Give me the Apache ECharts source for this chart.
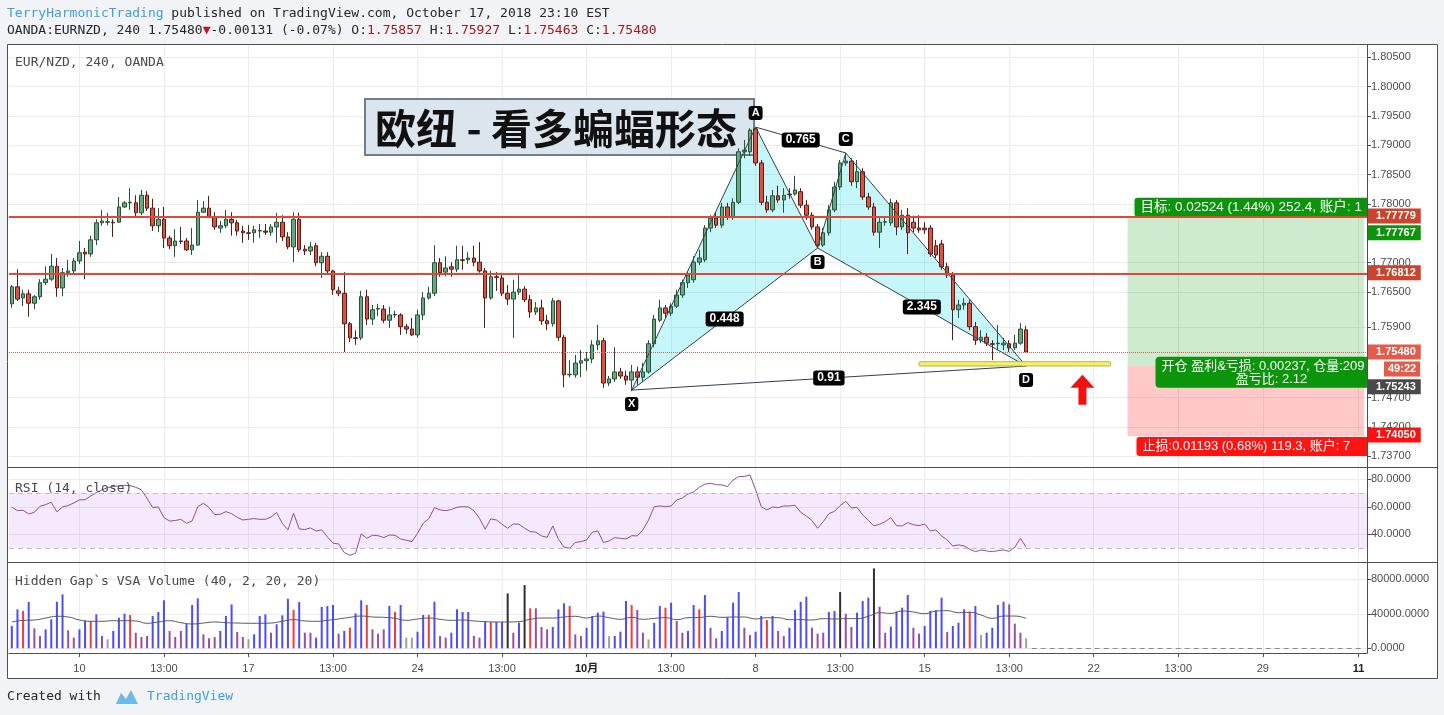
<!DOCTYPE html>
<html><head><meta charset="utf-8">
<script src="https://cdn.jsdelivr.net/npm/echarts@6/dist/echarts.min.js"></script>
<style>html,body{margin:0;padding:0;background:#fff;}#c{width:1444px;height:715px;}</style>
</head><body><div id="c"></div>
<script>
// ---------------- DATA ----------------
const barCount = 241; // category slots (data + empty future)
// [open, close, low, high] 4H candles EUR/NZD
const ohlc = [
[1.7630,1.7659,1.7623,1.7662],[1.7659,1.7638,1.7635,1.7689],[1.7640,1.7647,1.7626,1.7654],[1.7647,1.7631,1.7608,1.7654],
[1.7631,1.7642,1.7621,1.7645],[1.7642,1.7666,1.7637,1.7672],[1.7666,1.7672,1.7662,1.7694],[1.7672,1.7694,1.7669,1.7715],
[1.7694,1.7657,1.7642,1.7708],[1.7657,1.7683,1.7643,1.7691],[1.7683,1.7686,1.7676,1.7705],[1.7686,1.7703,1.7679,1.7708],
[1.7703,1.7717,1.7698,1.7737],[1.7718,1.7715,1.7672,1.7725],[1.7715,1.7739,1.7710,1.7746],[1.7739,1.7768,1.7730,1.7774],
[1.7768,1.7771,1.7763,1.7790],[1.7769,1.7770,1.7764,1.7785],[1.7769,1.7768,1.7744,1.7774],[1.7769,1.7795,1.7768,1.7812],
[1.7795,1.7802,1.7793,1.7805],[1.7802,1.7803,1.7790,1.7827],[1.7802,1.7785,1.7776,1.7815],[1.7785,1.7815,1.7781,1.7824],
[1.7815,1.7793,1.7788,1.7822],[1.7793,1.7763,1.7754,1.7809],[1.7763,1.7774,1.7752,1.7793],[1.7774,1.7742,1.7725,1.7795],
[1.7742,1.7729,1.7723,1.7746],[1.7729,1.7737,1.7710,1.7757],[1.7737,1.7736,1.7732,1.7761],[1.7737,1.7722,1.7720,1.7742],
[1.7722,1.7730,1.7713,1.7759],[1.7730,1.7786,1.7729,1.7807],[1.7786,1.7793,1.7785,1.7805],[1.7793,1.7778,1.7776,1.7814],
[1.7778,1.7761,1.7756,1.7786],[1.7759,1.7763,1.7751,1.7771],[1.7763,1.7774,1.7759,1.7790],[1.7774,1.7768,1.7746,1.7786],
[1.7768,1.7754,1.7746,1.7773],[1.7754,1.7751,1.7734,1.7763],[1.7751,1.7750,1.7739,1.7764],[1.7751,1.7756,1.7734,1.7763],
[1.7754,1.7755,1.7742,1.7766],[1.7754,1.7752,1.7747,1.7766],[1.7752,1.7761,1.7746,1.7766],[1.7761,1.7769,1.7734,1.7785],
[1.7769,1.7744,1.7737,1.7781],[1.7744,1.7727,1.7723,1.7752],[1.7727,1.7774,1.7701,1.7786],[1.7774,1.7722,1.7718,1.7785],
[1.7723,1.7720,1.7713,1.7730],[1.7720,1.7727,1.7713,1.7735],[1.7729,1.7700,1.7694,1.7734],[1.7700,1.7711,1.7674,1.7718],
[1.7711,1.7686,1.7681,1.7718],[1.7686,1.7654,1.7645,1.7688],[1.7652,1.7648,1.7643,1.7659],[1.7648,1.7596,1.7548,1.7684],
[1.7596,1.7572,1.7565,1.7599],[1.7572,1.7571,1.7560,1.7585],[1.7572,1.7642,1.7568,1.7652],[1.7642,1.7604,1.7594,1.7654],
[1.7604,1.7620,1.7594,1.7628],[1.7621,1.7622,1.7609,1.7630],[1.7621,1.7602,1.7597,1.7628],[1.7602,1.7611,1.7589,1.7625],
[1.7611,1.7612,1.7606,1.7618],[1.7611,1.7591,1.7577,1.7614],[1.7591,1.7587,1.7579,1.7596],[1.7587,1.7577,1.7575,1.7606],
[1.7577,1.7611,1.7572,1.7620],[1.7611,1.7640,1.7602,1.7650],[1.7640,1.7648,1.7637,1.7659],[1.7648,1.7700,1.7643,1.7730],
[1.7700,1.7683,1.7676,1.7708],[1.7684,1.7691,1.7677,1.7711],[1.7693,1.7689,1.7676,1.7701],[1.7689,1.7705,1.7684,1.7729],
[1.7705,1.7704,1.7688,1.7729],[1.7705,1.7708,1.7698,1.7718],[1.7708,1.7701,1.7694,1.7729],[1.7701,1.7686,1.7683,1.7735],
[1.7686,1.7640,1.7589,1.7691],[1.7640,1.7676,1.7637,1.7686],[1.7676,1.7675,1.7652,1.7684],[1.7674,1.7648,1.7643,1.7683],
[1.7648,1.7638,1.7628,1.7662],[1.7638,1.7650,1.7572,1.7671],[1.7650,1.7655,1.7645,1.7679],[1.7655,1.7637,1.7633,1.7660],
[1.7637,1.7616,1.7606,1.7645],[1.7616,1.7623,1.7611,1.7633],[1.7623,1.7601,1.7594,1.7637],[1.7601,1.7596,1.7585,1.7611],
[1.7596,1.7635,1.7591,1.7640],[1.7635,1.7573,1.7567,1.7637],[1.7573,1.7509,1.7488,1.7577],[1.7509,1.7510,1.7505,1.7534],
[1.7509,1.7529,1.7504,1.7543],[1.7529,1.7533,1.7505,1.7551],[1.7533,1.7536,1.7516,1.7548],[1.7536,1.7560,1.7529,1.7568],
[1.7560,1.7567,1.7551,1.7594],[1.7567,1.7495,1.7487,1.7572],[1.7495,1.7502,1.7490,1.7507],[1.7502,1.7514,1.7497,1.7556],
[1.7514,1.7507,1.7502,1.7521],[1.7507,1.7500,1.7492,1.7516],[1.7500,1.7514,1.7481,1.7526],[1.7514,1.7505,1.7492,1.7523],
[1.7505,1.7514,1.7497,1.7529],[1.7514,1.7562,1.7511,1.7568],[1.7562,1.7604,1.7556,1.7611],[1.7602,1.7623,1.7599,1.7637],
[1.7623,1.7614,1.7606,1.7628],[1.7614,1.7626,1.7609,1.7631],[1.7626,1.7645,1.7623,1.7654],[1.7645,1.7666,1.7640,1.7671],
[1.7666,1.7679,1.7657,1.7684],[1.7671,1.7701,1.7666,1.7711],[1.7701,1.7708,1.7696,1.7722],[1.7705,1.7759,1.7701,1.7764],
[1.7759,1.7776,1.7752,1.7781],[1.7776,1.7764,1.7759,1.7786],[1.7764,1.7795,1.7759,1.7802],[1.7795,1.7778,1.7773,1.7802],
[1.7778,1.7803,1.7773,1.7810],[1.7803,1.7889,1.7800,1.7895],[1.7889,1.7892,1.7878,1.7909],[1.7889,1.7926,1.7882,1.7929],
[1.7928,1.7870,1.7865,1.7931],[1.7870,1.7803,1.7798,1.7875],[1.7803,1.7790,1.7785,1.7814],[1.7790,1.7814,1.7786,1.7824],
[1.7814,1.7807,1.7802,1.7831],[1.7807,1.7815,1.7785,1.7827],[1.7817,1.7816,1.7809,1.7827],[1.7817,1.7824,1.7814,1.7848],
[1.7821,1.7798,1.7793,1.7827],[1.7798,1.7781,1.7773,1.7807],[1.7781,1.7761,1.7756,1.7786],[1.7761,1.7730,1.7725,1.7766],
[1.7730,1.7751,1.7727,1.7759],[1.7751,1.7790,1.7746,1.7798],[1.7790,1.7829,1.7786,1.7838],[1.7829,1.7870,1.7824,1.7875],
[1.7870,1.7873,1.7865,1.7887],[1.7873,1.7838,1.7831,1.7878],[1.7838,1.7855,1.7827,1.7875],[1.7855,1.7812,1.7807,1.7861],
[1.7812,1.7795,1.7790,1.7819],[1.7795,1.7752,1.7746,1.7802],[1.7752,1.7769,1.7725,1.7776],[1.7769,1.7770,1.7763,1.7776],
[1.7768,1.7802,1.7763,1.7809],[1.7802,1.7761,1.7747,1.7807],[1.7761,1.7781,1.7756,1.7790],[1.7781,1.7751,1.7715,1.7793],
[1.7769,1.7759,1.7752,1.7780],[1.7759,1.7756,1.7751,1.7781],[1.7759,1.7756,1.7749,1.7769],[1.7759,1.7715,1.7710,1.7764],
[1.7729,1.7713,1.7708,1.7739],[1.7732,1.7693,1.7688,1.7739],[1.7693,1.7679,1.7674,1.7700],[1.7679,1.7620,1.7568,1.7684],
[1.7620,1.7628,1.7606,1.7637],[1.7628,1.7631,1.7620,1.7640],[1.7631,1.7591,1.7585,1.7637],[1.7591,1.7568,1.7560,1.7599],
[1.7568,1.7573,1.7563,1.7585],[1.7573,1.7563,1.7558,1.7580],[1.7562,1.7561,1.7534,1.7568],[1.7562,1.7563,1.7551,1.7594],
[1.7560,1.7563,1.7551,1.7572],[1.7562,1.7555,1.7548,1.7568],[1.7555,1.7563,1.7551,1.7577],[1.7563,1.7587,1.7560,1.7597],
[1.75857,1.75480,1.75463,1.75927]
];
const rsi = [59.7,57.2,57.5,54.8,56.0,60.4,61.6,63.3,56.3,59.9,60.9,62.8,65.0,65.2,67.9,70.3,72.3,74.0,74.7,75.2,
75.6,75.4,74.2,72.3,66.2,59.4,59.9,52.1,49.7,50.0,50.9,48.0,49.7,60.1,62.6,59.4,54.3,54.6,56.5,55.0,
52.4,50.4,50.9,51.4,50.9,50.9,52.6,55.8,48.0,43.2,55.3,43.9,43.4,44.6,42.4,43.2,38.1,33.5,33.0,26.7,
24.7,26.2,40.3,37.1,39.3,39.0,37.6,39.5,39.3,36.6,35.7,34.7,40.7,48.0,51.4,59.4,57.7,57.2,58.0,59.7,
60.1,59.9,57.2,51.6,43.7,51.2,50.4,47.3,44.4,47.5,47.3,44.4,42.0,41.5,38.8,37.8,46.1,36.4,30.6,29.8,
34.0,34.7,35.9,41.5,42.4,34.0,35.2,37.6,37.1,36.6,39.0,38.8,43.2,50.4,60.1,60.6,60.1,60.6,65.0,66.4,
69.3,70.8,74.2,76.5,77.1,76.1,75.9,74.7,79.5,82.0,82.0,83.2,72.3,60.1,57.7,59.9,59.4,60.6,60.6,61.1,
56.0,53.3,50.0,44.4,49.2,55.0,56.7,60.9,64.0,59.2,59.6,54.1,50.0,46.1,47.3,49.2,52.1,46.3,46.1,48.5,
47.0,46.3,47.5,42.4,43.2,38.8,35.9,31.5,32.3,31.5,29.1,27.4,28.6,27.9,27.4,28.1,28.6,27.6,30.6,37.1,30.6];
const volume = [25900,45200,43200,53700,23200,14300,22000,33600,54000,62500,
20800,12400,22000,32400,31700,39400,14300,10400,20100,35500,
40100,38600,18100,13100,14300,37400,42100,55600,20100,13100,
20100,28600,50200,57900,16200,11600,13100,20100,37400,50900,
18900,13100,10400,16200,37400,39400,18100,27800,38200,57500,
44400,53700,18100,18100,12400,47900,49000,50200,17000,20100,
23900,40500,55600,50200,22000,17000,22000,49000,42100,50200,
12400,12400,19300,38600,38600,54000,14300,12400,18100,45200,
42100,42100,14300,12400,30500,30500,30500,30500,63700,18100,
29700,73300,46300,46300,24700,22000,24700,45200,52100,49000,
16200,14300,23900,37400,41300,42500,14300,14300,19300,54800,
50200,44400,18100,10400,29700,49000,47100,52900,31700,18100,
20100,50200,45200,61800,23900,11600,20100,36300,52900,65200,
23900,15400,19300,37400,32800,37400,20100,14300,23900,44400,
54000,59800,23900,17000,18100,42100,43200,65200,40100,24700,
41300,54800,58700,92600,48300,18100,25100,42500,47100,61800,
23900,17000,25900,43200,44000,58700,18900,25900,29700,45200,
42500,49000,15400,18100,23900,50200,54000,51000,28600,18100,
11600];
// VSA bar class per bar: b=blue r=red p=purple g=grey k=black
const volClass = 'bbrbppbbbbppbbrbpgbbbrpppbbbpppbbbpppbbbppgbbbpbbbrbppbbbbpbrbbrpppbrbggbbrbppbbbbppbrbbkpbkrpppbbbrppbbbbgbbbrppgbbrbppbbrbppbbbbppbbrbppbbbbpppbbkppbbbkppbbbbppbbbbpbbbrbgbbbbpppg';
// volume moving average, one value every 2 bars
const volMaStep = 2;
const volMa = [30500,32400,32800,35100,37100,36300,32800,31300,31300,32000,32000,31700,29000,30500,32000,29700,28200,29300,30500,29700,
29300,29000,29000,29300,31300,33200,31700,31300,32400,34000,35900,37400,36300,35900,34700,32400,34000,35100,33600,32400,
32800,31700,30900,30500,30500,30900,33600,35100,35100,36300,37100,35100,37400,35500,33600,35900,33600,34700,35500,33200,
35500,35700,37100,35900,36300,36300,34000,35500,35500,33200,33200,32800,34400,34000,34400,34400,37100,41300,40500,43200,
42100,40100,43200,43600,41300,41700,38600,34700,37400,37400,34700];
// tick labels
const priceTicks = [1.737,1.742,1.747,1.759,1.765,1.770,1.780,1.785,1.790,1.795,1.800,1.805];
const rsiTicks = [40,60,80];
const volTicks = [0,40000,80000];
const xLabelIdx = [12,27,42,57,72,87,102,117,132,147,162,177,192,207,222,239];
const xLabelText = ['10','13:00','17','13:00','24','13:00','10月','13:00','8','13:00','15','13:00','22','13:00','29','11'];
const xLabelBold = ['10月','11'];
// harmonic bat pattern points
const patName = ['X','A','B','C','D'];
const patIdx = [110,132,143,148,180];
const patPrice = [1.7483,1.7931,1.7725,1.7887,1.7524];
const ratioPairs = [[0,2],[1,3],[2,4],[0,4]];
const ratioText = ['0.448','0.765','2.345','0.91'];
// levels
const resistance = [1.77779,1.76812];
const lastPrice = 1.75480;
const countdown = '49:22';
const targetPrice = 1.77767, entryPrice = 1.75243, stopPrice = 1.74050;
const zoneFrom = 198, zoneTo = 240;
const yellowFrom = 161, yellowTo = 195, yellowTop = 1.75314, yellowBottom = 1.75241;
const arrowIdx = 190, arrowTip = 1.7509;
const targetText = '目标: 0.02524 (1.44%) 252.4, 账户: 1';
const entryText1 = '开仓 盈利&亏损: 0.00237, 仓量:209';
const entryText2 = '盈亏比: 2.12';
const stopText = '止损:0.01193 (0.68%) 119.3, 账户: 7';
const titleText = '欧纽 - 看多蝙蝠形态';

// ---------------- CHART ----------------
const mono = '"DejaVu Sans Mono", monospace';
const sans = '"Liberation Sans", Arial, "Noto Sans CJK SC", sans-serif';
const cjk = '"Liberation Sans", Arial, "Noto Sans CJK SC", sans-serif';
const cats = Array.from({length: barCount}, (_, i) => String(i));
const volColors = {b:'#4b4bff', r:'#f23b3b', p:'#9a4f9e', g:'#a0a0a0', k:'#303030'};
const G = {left: 9, right: 77};

function fillRender(params, api) {
  if (params.dataIndex !== 0) return null;
  const p = patIdx.map((x, k) => api.coord([x, patPrice[k]]));
  const st = {fill: 'rgba(0,214,232,0.23)'};
  return {type:'group', children:[
    {type:'polygon', shape:{points:[p[0],p[1],p[2]]}, style:st},
    {type:'polygon', shape:{points:[p[2],p[3],p[4]]}, style:st}
  ]};
}
function lineRender(params, api) {
  if (params.dataIndex !== 0) return null;
  const p = patIdx.map((x, k) => api.coord([x, patPrice[k]]));
  const edges = [[0,1],[1,2],[2,0],[2,3],[3,4],[4,2],[1,3],[0,4]];
  const ch = edges.map(([a,b]) => ({type:'line', shape:{x1:p[a][0],y1:p[a][1],x2:p[b][0],y2:p[b][1]}, style:{stroke:'#34404c', lineWidth:1}}));
  ratioPairs.forEach(([a,b], k) => ch.push({type:'text', x:(p[a][0]+p[b][0])/2, y:(p[a][1]+p[b][1])/2,
    style:{text:ratioText[k], fill:'#fff', font:'bold 12px '+sans, align:'center', verticalAlign:'middle',
      backgroundColor:'#000', padding:[2,4,1,4], borderRadius:3}}));
  patName.forEach((n, k) => {
    const up = (k === 1 || k === 3);
    ch.push({type:'text', x:p[k][0], y:p[k][1] + (up ? -14 : 14),
      style:{text:n, fill:'#fff', font:'bold 11px '+sans, align:'center', verticalAlign:'middle',
        backgroundColor:'#000', padding:[2,3,1,3], borderRadius:3}});
  });
  return {type:'group', children: ch};
}
function posRender(params, api) {
  if (params.dataIndex !== 0) return null;
  const T = api.coord([zoneFrom, targetPrice]);
  const E = api.coord([zoneFrom, entryPrice]);
  const S = api.coord([zoneFrom, stopPrice]);
  const Y1 = api.coord([yellowFrom, yellowTop]);
  const Y2 = api.coord([yellowTo, yellowBottom]);
  const A = api.coord([arrowIdx, arrowTip]);
  const green = '#0b950b', red = '#ff1414';
  const ax = A[0], ay = A[1];
  return {type:'group', children:[
    {type:'rect', shape:{x:Y1[0], y:Y1[1], width:Y2[0]-Y1[0], height:Math.max(4, Y2[1]-Y1[1]), r:1}, style:{fill:'#f4f06c', stroke:'#b9b24a', lineWidth:1}},
    {type:'polygon', shape:{points:[[ax,ay],[ax+12,ay+13],[ax+4,ay+13],[ax+4,ay+30],[ax-4,ay+30],[ax-4,ay+13],[ax-12,ay+13]]}, style:{fill:'#f41010'}},
    {type:'rect', shape:{x:T[0]+7, y:T[1]-20, width:300, height:19, r:3}, style:{fill:green}},
    {type:'text', x:T[0]+13, y:T[1]-10.5, style:{text:targetText, fill:'#fff', font:'13.5px '+cjk, align:'left', verticalAlign:'middle'}},
    {type:'rect', shape:{x:E[0]+28, y:E[1]-9, width:300, height:31, r:4}, style:{fill:green}},
    {type:'text', x:E[0]+34, y:E[1]+0.5, style:{text:entryText1, fill:'#fff', font:'13px '+cjk, align:'left', verticalAlign:'middle'}},
    {type:'text', x:E[0]+144, y:E[1]+13.5, style:{text:entryText2, fill:'#fff', font:'13px '+cjk, align:'center', verticalAlign:'middle'}},
    {type:'rect', shape:{x:S[0]+9, y:S[1]+1, width:300, height:19, r:3}, style:{fill:red}},
    {type:'text', x:S[0]+15, y:S[1]+10.5, style:{text:stopText, fill:'#fff', font:'13px '+cjk, align:'left', verticalAlign:'middle'}}
  ]};
}

const tagBase = {show:true, position:'end', distance:1, color:'#fff', fontWeight:'bold', fontSize:11, lineHeight:11, fontFamily:sans, padding:[2,5,2,8]};
function priceTag(value, text, bg, dy, dx, pad) {
  return {yAxis: value, lineStyle:{color:'transparent', width:0},
    label:Object.assign({}, tagBase, {formatter:text, offset:[dx||0, dy||0], backgroundColor:bg}, pad ? {padding:pad} : {})};
}

const axisLabelStyle = {color:'#4d4d4d', fontSize:11, fontFamily:sans};
const splitStyle = {show:true, lineStyle:{color:'#ececec', width:1}};

function gridXAxis(gi) {
  return {type:'value', gridIndex:gi, min:-0.5, max:barCount-0.5, position:'bottom',
    axisLine:{show:false, onZero:false}, axisLabel:{show:false, customValues:xLabelIdx},
    axisTick:{show:false, customValues:xLabelIdx}, splitLine:splitStyle};
}
function catXAxis(gi, showLabels) {
  const f = (i) => xLabelIdx.indexOf(i) >= 0;
  return {type:'category', gridIndex:gi, data:cats, boundaryGap:true,
    axisLine:{show:showLabels, onZero:false, lineStyle:{color:'#4f4f4f'}},
    axisTick:{show:showLabels, alignWithLabel:true, interval:(i)=>f(i), length:4, lineStyle:{color:'#4f4f4f'}},
    axisLabel:{show:showLabels, interval:(i)=>f(i), margin:10, ...axisLabelStyle,
      formatter:(v, i) => { const t = xLabelText[xLabelIdx.indexOf(Number(v))]; return xLabelBold.indexOf(t) >= 0 ? '{b|'+t+'}' : t; },
      rich:{b:{fontWeight:'bold', color:'#222', fontSize:11, fontFamily:sans}}},
    splitLine:{show:false}};
}
function yAx(gi, min, max, ticks, digits) {
  return {type:'value', gridIndex:gi, position:'right', min:min, max:max,
    axisLine:{show:true, onZero:false, lineStyle:{color:'#4f4f4f'}},
    axisTick:{show:true, length:4, customValues:ticks, lineStyle:{color:'#4f4f4f'}},
    axisLabel:{...axisLabelStyle, margin:4, customValues:ticks, formatter:(v)=>v.toFixed(digits)},
    splitLine:splitStyle};
}

const option = {
  animation:false,
  backgroundColor:'#ffffff',
  grid:[
    {left:G.left, right:G.right, top:44, height:423},
    {left:G.left, right:G.right, top:467, height:95},
    {left:G.left, right:G.right, top:562, height:91}
  ],
  xAxis:[catXAxis(0,false), catXAxis(1,false), catXAxis(2,true), gridXAxis(0), gridXAxis(1), gridXAxis(2)],
  yAxis:[
    yAx(0, 1.7352, 1.80726, priceTicks, 5),
    yAx(1, 19.85, 88.95, rsiTicks, 4),
    yAx(2, -5450, 100060, volTicks, 4)
  ],
  series:[
    {type:'custom', name:'batFill', xAxisIndex:0, yAxisIndex:0, z:1, silent:true, renderItem:fillRender,
      data:[[patIdx[0], patPrice[0]]]},
    {type:'candlestick', name:'EURNZD', xAxisIndex:0, yAxisIndex:0, z:2, data:ohlc, barWidth:4,
      itemStyle:{color:'#6ba583', color0:'#d75442', borderColor:'#225437', borderColor0:'#5b1a13', borderWidth:1},
      markArea:{silent:true, data:[
        [{coord:[String(zoneFrom), entryPrice], itemStyle:{color:'rgba(0,150,0,0.19)'}}, {coord:[String(zoneTo), targetPrice]}],
        [{coord:[String(zoneFrom), entryPrice], itemStyle:{color:'rgba(255,0,0,0.21)'}}, {coord:[String(zoneTo), stopPrice]}]
      ]},
      markLine:{silent:true, symbol:'none', precision:6, animation:false, data:[
        {yAxis:resistance[0], lineStyle:{color:'#e2483a', width:2, type:'solid'},
          label:Object.assign({}, tagBase, {formatter:resistance[0].toFixed(5), offset:[0,-1], backgroundColor:'#c9452f'})},
        {yAxis:resistance[1], lineStyle:{color:'#e2483a', width:2, type:'solid'},
          label:Object.assign({}, tagBase, {formatter:resistance[1].toFixed(5), offset:[0,-1], backgroundColor:'#c9452f'})},
        {yAxis:lastPrice, lineStyle:{color:'#e25b4b', width:1, type:'dotted'},
          label:Object.assign({}, tagBase, {formatter:lastPrice.toFixed(5), backgroundColor:'#e25b4b'})},
        priceTag(lastPrice, countdown, '#e25b4b', 17, 16, [2,4,2,4]),
        priceTag(targetPrice, targetPrice.toFixed(5), '#0b950b', 15),
        priceTag(entryPrice, entryPrice.toFixed(5), '#4a4a4a', 21),
        priceTag(stopPrice, stopPrice.toFixed(5), '#ff1010', -1)
      ]}},
    {type:'custom', name:'batLines', xAxisIndex:0, yAxisIndex:0, z:3, silent:true, renderItem:lineRender,
      data:[[patIdx[0], patPrice[0]]]},
    {type:'custom', name:'position', xAxisIndex:0, yAxisIndex:0, z:4, silent:true, clip:true, renderItem:posRender,
      data:[[zoneFrom, entryPrice]]},
    {type:'line', name:'RSI', xAxisIndex:1, yAxisIndex:1, data:rsi, symbol:'none', z:3,
      lineStyle:{color:'#8e4ea3', width:1},
      markArea:{silent:true, itemStyle:{color:'rgba(155,40,240,0.1)'}, data:[[{yAxis:30},{yAxis:70}]]},
      markLine:{silent:true, symbol:'none', precision:4, label:{show:false}, lineStyle:{color:'#c9b3d9', type:[5,4], width:1},
        data:[{yAxis:30},{yAxis:70}]}},
    {type:'bar', name:'Volume', xAxisIndex:2, yAxisIndex:2, barWidth:2, z:2,
      data: volume.map((v, i) => ({value:v, itemStyle:{color:volColors[volClass[i]]}})),
      markLine:{silent:true, symbol:'none', label:{show:false}, lineStyle:{color:'#8a8a8a', type:[5,4], width:1},
        data:[[{coord:[String(volume.length), 0]}, {coord:[String(barCount-1), 0]}]]}},
    {type:'line', name:'VolMA', xAxisIndex:2, yAxisIndex:2, z:3, symbol:'none', smooth:true,
      data: volMa.map((v, k) => [k*volMaStep, v]), lineStyle:{color:'#5a5a5a', width:1}}
  ],
  graphic:{elements:[
    {type:'rect', silent:true, z:50, shape:{x:0,y:0,width:1444,height:44}, style:{fill:'#f1f3f6'}},
    {type:'rect', silent:true, z:50, shape:{x:0,y:679,width:1444,height:36}, style:{fill:'#f1f3f6'}},
    {type:'rect', silent:true, z:50, shape:{x:0,y:44,width:7,height:635}, style:{fill:'#f1f3f6'}},
    {type:'rect', silent:true, z:50, shape:{x:1438,y:44,width:6,height:635}, style:{fill:'#f1f3f6'}},
    {type:'rect', silent:true, z:60, shape:{x:7.5,y:44.5,width:1430,height:634}, style:{fill:'none', stroke:'#4f4f4f', lineWidth:1}},
    {type:'line', silent:true, z:60, shape:{x1:7,y1:467.5,x2:1438,y2:467.5}, style:{stroke:'#4f4f4f', lineWidth:1}},
    {type:'line', silent:true, z:60, shape:{x1:7,y1:562.5,x2:1438,y2:562.5}, style:{stroke:'#4f4f4f', lineWidth:1}},
    {type:'text', silent:true, z:61, x:7, y:14, style:{text:'{a|TerryHarmonicTrading}{b| published on TradingView.com, October 17, 2018 23:10 EST}',
      verticalAlign:'middle', rich:{a:{fill:'#3f9fdc', fontFamily:mono, fontSize:13}, b:{fill:'#262626', fontFamily:mono, fontSize:13}}}},
    {type:'text', silent:true, z:61, x:7, y:31, style:{text:'{b|OANDA:EURNZD, 240 1.75480}{t|▼}{b|-0.00131 (-0.07%) O:}{r|1.75857}{b| H:}{r|1.75927}{b| L:}{r|1.75463}{b| C:}{r|1.75480}',
      verticalAlign:'middle', rich:{b:{fill:'#262626', fontFamily:mono, fontSize:13}, r:{fill:'#a3161a', fontFamily:mono, fontSize:13}, t:{fill:'#c4161c', fontFamily:mono, fontSize:13}}}},
    {type:'text', silent:true, z:61, x:15, y:63, style:{text:'EUR/NZD, 240, OANDA', fill:'#4a4a4a', font:'13px '+mono, verticalAlign:'middle'}},
    {type:'text', silent:true, z:61, x:15, y:489, style:{text:'RSI (14, close)', fill:'#4a4a4a', font:'13px '+mono, verticalAlign:'middle'}},
    {type:'text', silent:true, z:61, x:15, y:582, style:{text:'Hidden Gap`s VSA Volume (40, 2, 20, 20)', fill:'#4a4a4a', font:'13px '+mono, verticalAlign:'middle'}},
    {type:'rect', silent:true, z:1.5, shape:{x:365,y:99,width:389,height:56}, style:{fill:'#dbe5ee', stroke:'#6e7e8e', lineWidth:2}},
    {type:'text', silent:true, z:1.6, x:556, y:128, style:{text:titleText, fill:'#111', font:'bold 41px "Noto Sans CJK SC", sans-serif', align:'center', verticalAlign:'middle'}},
    {type:'text', silent:true, z:61, x:7, y:697, style:{text:'Created with', fill:'#262626', font:'13px '+mono, verticalAlign:'middle'}},
    {type:'polygon', silent:true, z:61, shape:{points:[[116,704],[121,693],[126,699],[131,690],[138,704]]}, style:{fill:'#6cbbe6'}},
    {type:'text', silent:true, z:61, x:147, y:697, style:{text:'TradingView', fill:'#3f9fdc', font:'13px '+mono, verticalAlign:'middle'}}
  ]}
};
const chart = echarts.init(document.getElementById('c'));
chart.setOption(option);
</script></body></html>
